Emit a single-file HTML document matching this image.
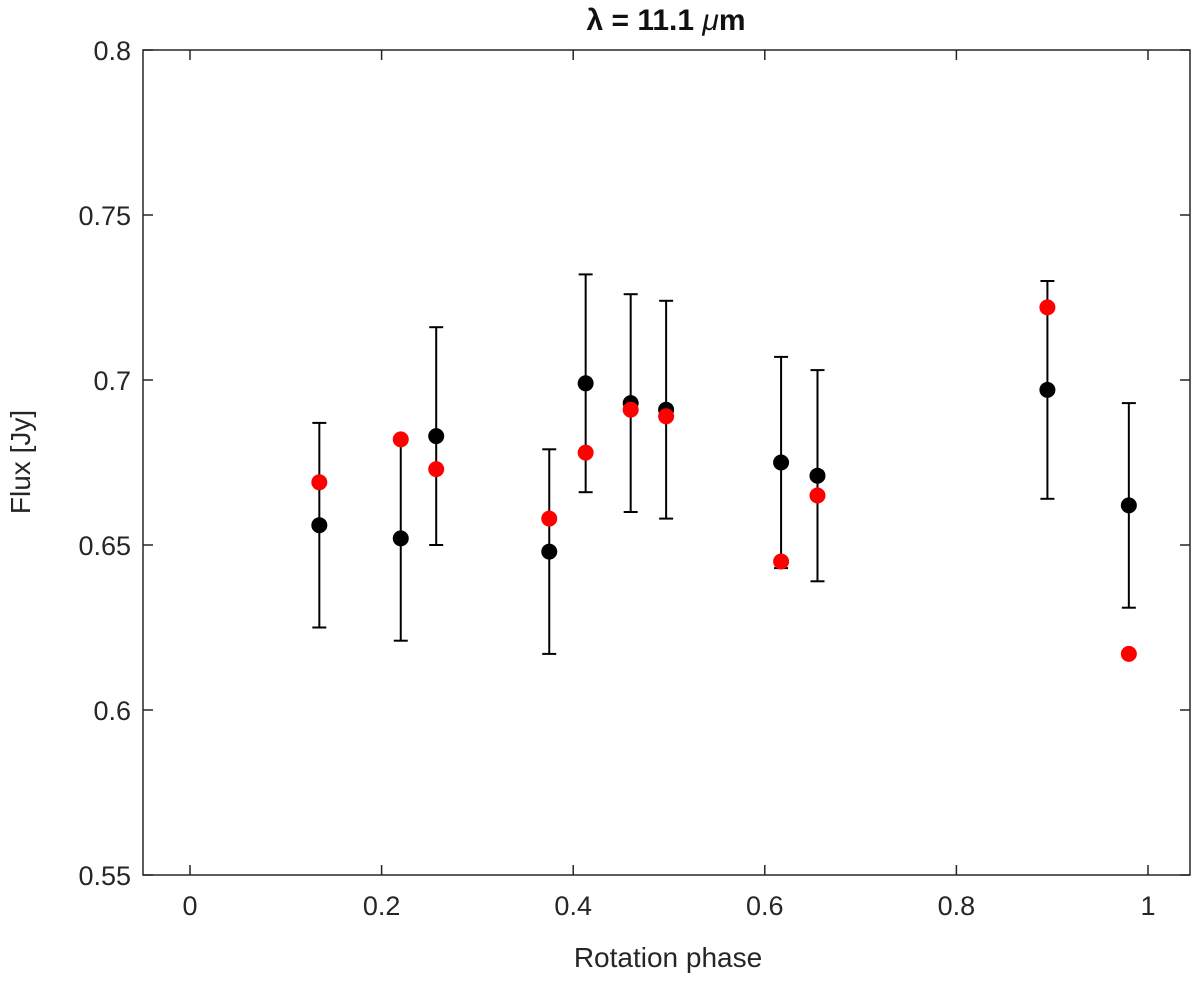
<!DOCTYPE html>
<html><head><meta charset="utf-8"><style>
html,body{margin:0;padding:0;background:#fff;}
svg{display:block;font-family:"Liberation Sans","DejaVu Sans",sans-serif;}
</style></head><body>
<svg id="chart" width="1200" height="984" viewBox="0 0 1200 984" xmlns="http://www.w3.org/2000/svg">
<rect width="1200" height="984" fill="#fff"/>
<text x="666" y="30" text-anchor="middle" font-size="30" font-weight="bold" fill="#111">λ = 11.1 <tspan font-style="italic" font-weight="normal">μ</tspan>m</text>
<g id="axes"></g>
<g id="marks"></g>
<text x="668" y="967" text-anchor="middle" font-size="28" fill="#262626">Rotation phase</text>
<text transform="translate(30,462) rotate(-90)" text-anchor="middle" font-size="28" fill="#262626">Flux [Jy]</text>
</svg>
<script>
const phases = [0.135,0.22,0.257,0.375,0.413,0.46,0.497,0.617,0.655,0.895,0.98];
const fluxBlack = [0.656,0.652,0.683,0.648,0.699,0.693,0.691,0.675,0.671,0.697,0.662];
const errUpper = [0.687,0.682,0.716,0.679,0.732,0.726,0.724,0.707,0.703,0.730,0.693];
const errLower = [0.625,0.621,0.650,0.617,0.666,0.660,0.658,0.643,0.639,0.664,0.631];
const fluxRed = [0.669,0.682,0.673,0.658,0.678,0.691,0.689,0.645,0.665,0.722,0.617];
const xTicks = [0,0.2,0.4,0.6,0.8,1];
const xTickLabels = ["0","0.2","0.4","0.6","0.8","1"];
const yTicks = [0.55,0.6,0.65,0.7,0.75,0.8];
const yTickLabels = ["0.55","0.6","0.65","0.7","0.75","0.8"];

const L=143,R=1190,T=50,B=875;
function xs(v){return 190+v*958;}
function ys(v){return B-(v-0.55)/0.25*(B-T);}
const NS="http://www.w3.org/2000/svg";
function mk(tag,attrs,parent){const e=document.createElementNS(NS,tag);for(const k in attrs)e.setAttribute(k,attrs[k]);parent.appendChild(e);return e;}
const ax=document.getElementById('axes'), mg=document.getElementById('marks');
const box=mk('rect',{x:L,y:T,width:R-L,height:B-T,fill:'none',stroke:'#262626','stroke-width':1.5},ax);


xTicks.forEach((v,i)=>{const x=xs(v);
 mk('line',{x1:x,x2:x,y1:B,y2:B-10,stroke:'#262626','stroke-width':1.5},ax);
 mk('line',{x1:x,x2:x,y1:T,y2:T+10,stroke:'#262626','stroke-width':1.5},ax);
 const t=mk('text',{x:x,y:B+40,'text-anchor':'middle','font-size':27,fill:'#262626'},ax);
 t.textContent=xTickLabels[i];
 
 
});
yTicks.forEach((v,i)=>{const y=ys(v);
 mk('line',{x1:L,x2:L+10,y1:y,y2:y,stroke:'#262626','stroke-width':1.5},ax);
 mk('line',{x1:R,x2:R-10,y1:y,y2:y,stroke:'#262626','stroke-width':1.5},ax);
 const t=mk('text',{x:L-12,y:y+10,'text-anchor':'end','font-size':27,fill:'#262626'},ax);
 t.textContent=yTickLabels[i];
 
 
});
phases.forEach((p,i)=>{const x=xs(p),yt=ys(errUpper[i]),yb=ys(errLower[i]);
 const g=mk('g',{stroke:'#000','stroke-width':2},mg);
 
 
 mk('line',{x1:x,x2:x,y1:yt,y2:yb},g);
 mk('line',{x1:x-7,x2:x+7,y1:yt,y2:yt},g);
 mk('line',{x1:x-7,x2:x+7,y1:yb,y2:yb},g);
 const c=mk('circle',{cx:x,cy:ys(fluxBlack[i]),r:8,fill:'#000'},mg);
 
 
});
phases.forEach((p,i)=>{
 const c=mk('circle',{cx:xs(p),cy:ys(fluxRed[i]),r:8,fill:'#ff0000'},mg);
 
 
});
</script>
</body></html>
